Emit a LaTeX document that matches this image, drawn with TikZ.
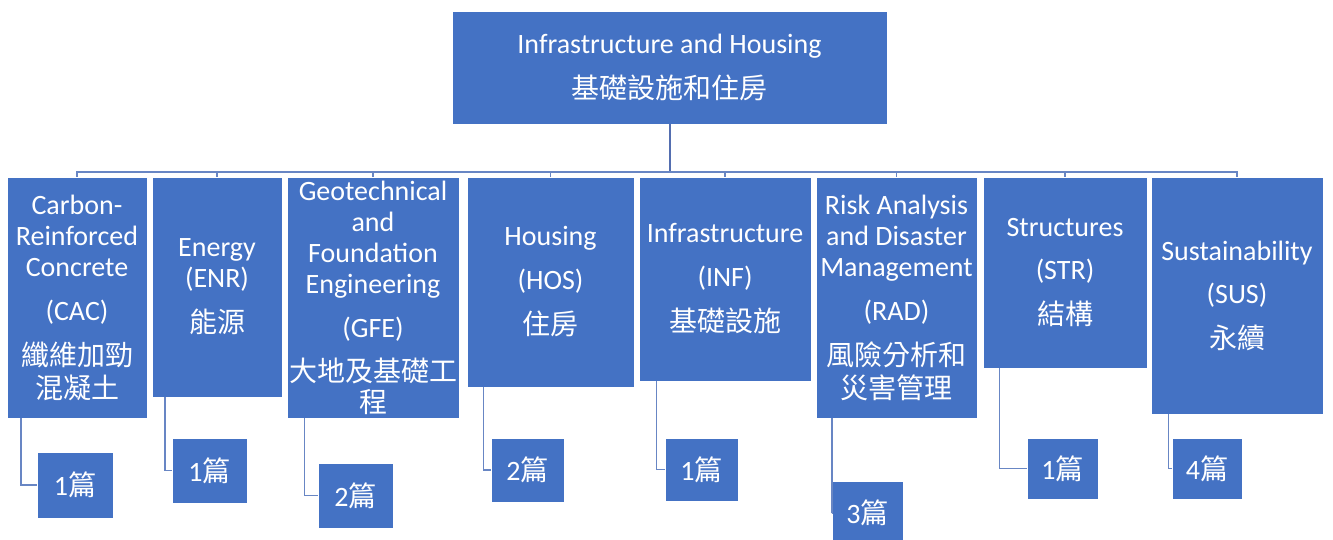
\documentclass[tikz,border=0pt]{standalone}
\usepackage{fontspec}
\setmainfont{Carlito}
\newfontfamily\cjk{Noto Sans CJK TC}
\usepackage{xcolor}
\usetikzlibrary{positioning,calc}

\definecolor{boxblue}{HTML}{4472C4}
\definecolor{linkblue}{RGB}{104,134,196}
\definecolor{trunkblue}{RGB}{84,110,176}

\begin{document}
\begin{tikzpicture}[x=1pt, y=-1pt,
  topic/.style={rectangle, draw=white, line width=0.6pt, fill=boxblue,
                text=white, inner sep=0pt, outer sep=0pt, align=center,
                font=\fontsize{28}{31}\selectfont},
  count/.style={topic, minimum width=74pt, minimum height=64pt},
  link/.style={draw=linkblue, line width=1.3pt},
  trunk/.style={draw=trunkblue, line width=2pt}
]
  \useasboundingbox (0,0) rectangle (1333,539);

  % root
  \node[topic, minimum width=435pt, minimum height=113pt] (root) at (669.5,67.5)
    {Infrastructure and Housing\\[14pt]{\cjk 基礎設施和住房}};

  % second row
  \node[topic, anchor=north west, minimum width=140pt, minimum height=241pt] (CAC) at (7,177)
    {Carbon-\\Reinforced\\Concrete\\[13pt](CAC)\\[14pt]{\cjk 纖維加勁}\\[2pt]{\cjk 混凝土}};
  \node[topic, right=5pt of CAC.north east, anchor=north west,
        minimum width=130pt, minimum height=220pt] (ENR)
    {Energy\\(ENR)\\[14pt]{\cjk 能源}};
  \node[topic, right=5pt of ENR.north east, anchor=north west,
        minimum width=172pt, minimum height=241pt] (GFE)
    {Geotechnical\\and\\Foundation\\Engineering\\[13pt](GFE)\\[13pt]{\cjk 大地及基礎工}\\{\cjk 程}};
  \node[topic, right=8pt of GFE.north east, anchor=north west,
        minimum width=167pt, minimum height=210pt] (HOS)
    {Housing\\[13pt](HOS)\\[14pt]{\cjk 住房}};
  \node[topic, right=5pt of HOS.north east, anchor=north west,
        minimum width=172pt, minimum height=204pt] (INF)
    {Infrastructure\\[13pt](INF)\\[14pt]{\cjk 基礎設施}};
  \node[topic, right=5pt of INF.north east, anchor=north west,
        minimum width=161pt, minimum height=241pt] (RAD)
    {Risk Analysis\\and Disaster\\Management\\[13pt](RAD)\\[14pt]{\cjk 風險分析和}\\[2pt]{\cjk 災害管理}};
  \node[topic, right=6pt of RAD.north east, anchor=north west,
        minimum width=164pt, minimum height=191pt] (STR)
    {Structures\\[12pt](STR)\\[14pt]{\cjk 結構}};
  \node[topic, right=4pt of STR.north east, anchor=north west,
        minimum width=172pt, minimum height=237pt] (SUS)
    {Sustainability\\[12pt](SUS)\\[14pt]{\cjk 永續}};

  % paper counts
  \node[count, below right=34pt and 30pt of CAC.south west, minimum width=76pt, minimum height=66pt] (nCAC) {1{\cjk 篇}};
  \node[count, below right=41pt and 20pt of ENR.south west, minimum width=75pt, minimum height=65pt] (nENR) {1{\cjk 篇}};
  \node[count, below right=45pt and 31pt of GFE.south west, minimum width=75pt, minimum height=65pt] (nGFE) {2{\cjk 篇}};
  \node[count, below right=51pt and 24pt of HOS.south west, minimum width=73pt] (nHOS) {2{\cjk 篇}};
  \node[count, below right=57pt and 26pt of INF.south west, minimum width=73pt, minimum height=63pt] (nINF) {1{\cjk 篇}};
  \node[count, below right=63pt and 16pt of RAD.south west, minimum width=71pt] (nRAD) {3{\cjk 篇}};
  \node[count, below right=70pt and 44pt of STR.south west, minimum width=71pt, minimum height=61pt] (nSTR) {1{\cjk 篇}};
  \node[count, below right=24pt and 21pt of SUS.south west, minimum width=70pt, minimum height=61pt] (nSUS) {4{\cjk 篇}};

  % connectors
  \draw[trunk] (root.south) -- ++(0,48) coordinate (bus);
  \foreach \b in {CAC,ENR,GFE,HOS,INF,RAD,STR,SUS} {
    \draw[link] (bus) -| (\b.north);
    \draw[link] ($(\b.south west)!0.1!(\b.south east)$) |- (n\b.west);
  }
\end{tikzpicture}
\end{document}
